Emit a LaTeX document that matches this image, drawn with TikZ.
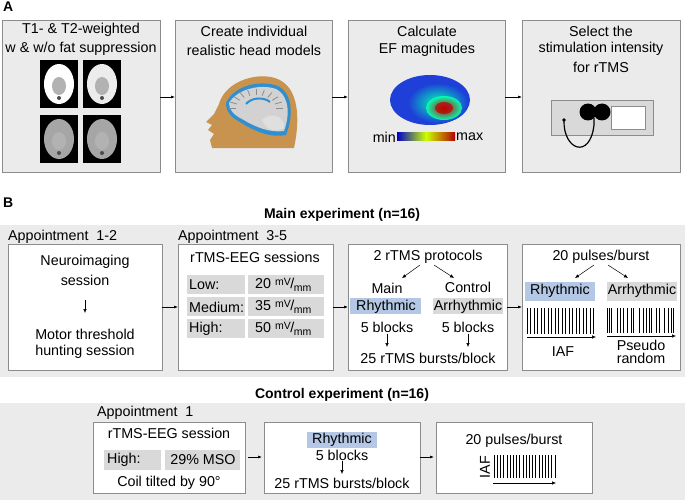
\documentclass[tikz,border=0pt]{standalone}
\usepackage{fontspec}
\setmainfont{Liberation Sans}
\usetikzlibrary{arrows.meta,calc}
\definecolor{band}{HTML}{EBEBEB}
\definecolor{cell}{HTML}{D9D9D9}
\definecolor{bluec}{HTML}{B4C8E6}
\definecolor{bord}{HTML}{8C8C8C}
\definecolor{skin}{HTML}{C8934E}
\definecolor{csf}{HTML}{2F8FD0}
\definecolor{efblue}{HTML}{1E3FD8}
\newcommand{\mvmm}{\raisebox{0.45ex}{\fontsize{10.5}{10}\selectfont mV}\kern-0.5pt/\kern-0.5pt\raisebox{-0.4ex}{\fontsize{10.5}{10}\selectfont mm}}
\begin{document}
\begin{tikzpicture}[x=1pt,y=-1pt,
 every node/.style={font=\fontsize{14.3}{16}\selectfont, inner sep=0pt},
 abox/.style={draw=bord, fill=band, line width=0.8pt},
 wbox/.style={draw=bord, fill=white, line width=0.8pt},
 arr/.style={-{Latex[length=4pt,width=3pt]}, line width=0.6pt},
 sarr/.style={-{Latex[length=4pt,width=3.5pt]}, line width=0.5pt},
 lab/.style={font=\fontsize{14}{16}\selectfont\bfseries},
 hd/.style={font=\fontsize{14}{16}\selectfont\bfseries}]
\useasboundingbox (0,0) rectangle (685,500);
% ---------- A ----------
\node[lab,anchor=north west] (labA) at (3,2) {A};
\draw[abox] (2,20) rectangle (160,172); \coordinate (a1e) at (160,97);
\draw[abox] (175,20) rectangle (332,172); \coordinate (a2w) at (175,97); \coordinate (a2e) at (332,97);
\draw[abox] (348,20) rectangle (505,172); \coordinate (a3w) at (348,97); \coordinate (a3e) at (505,97);
\draw[abox] (522,20) rectangle (680,172); \coordinate (a4w) at (522,97);
\draw[arr] (a1e) -- (a2w); \draw[arr] (a2e) -- (a3w); \draw[arr] (a3e) -- (a4w);
\node (t1) at (81,30) {T1- \& T2-weighted};
\node (t2) at (81,49) {w \& w/o fat suppression};
\node (c1) at (254,31) {Create individual};
\node (c2) at (254,50) {realistic head models};
\node (e1) at (427,31) {Calculate};
\node (e2) at (427,50) {EF magnitudes};
\node (s1) at (601,31) {Select the};
\node (s2) at (601,49) {stimulation intensity};
\node (s3) at (601,67) {for rTMS};
% MRI images
\foreach \x/\y/\c in {40/60/white,83/60/white!85!gray,40/115/gray!70!white,83/115/gray!70!white}{
 \fill[black] (\x,\y) rectangle ++(38,48);
 \fill[\c] (\x+19,\y+24) ellipse (15 and 20);
 \fill[gray!60] (\x+19,\y+26) ellipse (7 and 9);
 \fill[black!70] (\x+19,\y+38) circle (2);
}
% head model
\fill[skin] (212,148) -- (210,140) -- (214,134) -- (208,130) -- (212,125) -- (206,122) -- (214,114) -- (219,104) .. controls (225,82) and (255,72) .. (275,78) .. controls (300,86) and (300,120) .. (294,148) -- cycle;
\fill[csf] (226,103) .. controls (235,84) and (262,80) .. (278,86) .. controls (295,95) and (292,120) .. (286,135) .. controls (272,138) and (255,132) .. (240,122) .. controls (232,118) and (226,112) .. (226,103) -- cycle;
\fill[gray!35] (229,103) .. controls (238,88) and (262,84) .. (276,89) .. controls (291,97) and (289,118) .. (284,131) .. controls (270,133) and (255,127) .. (242,119) .. controls (234,115) and (229,110) .. (229,103) -- cycle;
\fill[gray!25] (262,120) .. controls (270,112) and (285,115) .. (284,128) .. controls (275,133) and (266,130) .. (262,120) -- cycle;
\draw[csf,line width=2pt] (246,104) .. controls (252,97) and (264,97) .. (270,102);
\foreach \a in {0,...,10}{\draw[black!45,line width=0.8pt] ($(256,108)+(180+\a*18:27 and 19)$) -- ($(256,108)+(180+\a*18:20 and 13)$);}
% EF brain
\fill[efblue] (430,100) ellipse (40 and 25);
\shade[inner color=cyan!70!green, outer color=efblue] (438,103) ellipse (30 and 20);
\shade[inner color=red!80!black, middle color=yellow!90!orange, outer color=cyan!70!green] (444,108) ellipse (18 and 12);
\fill[red!75!black, opacity=0.7] (444,108) ellipse (9 and 6);
\shade[left color=blue!80!black, right color=red!70!black, middle color=yellow!80!green] (397,133) rectangle (455,141);
\node[anchor=east] (mn) at (396,137) {min};
\node[anchor=west] (mx) at (456,137) {max};
% device
\draw[bord, fill=cell, line width=0.8pt] (551,100) rectangle (653,135);
\draw[bord, fill=white, line width=0.8pt] (611,106) rectangle (645,129);
\fill (588,112) circle (8.5); \fill (602,112) circle (8.5);
\draw[line width=1.2pt] (564,120) .. controls (563,150) and (590,160) .. (594,125) -- (594,118);
\fill (564,120) circle (1.8);
% ---------- B ----------
\node[lab,anchor=north west] (labB) at (3,198) {B};
\node[hd] (mainh) at (342,215) {Main experiment (n=16)};
\fill[band] (0,225) rectangle (685,377);
\node[anchor=west] (ap12) at (8,237) {Appointment\ \ 1-2};
\node[anchor=west] (ap35) at (178,237) {Appointment\ \ 3-5};
\draw[wbox] (8,244) rectangle (162,370);
\draw[wbox] (178,244) rectangle (333,370);
\draw[wbox] (348,244) rectangle (507,370);
\draw[wbox] (522,244) rectangle (680,370);
\coordinate (b1e) at (162,307); \coordinate (b2w) at (178,307);
\coordinate (b2e) at (333,307); \coordinate (b3w) at (348,307);
\coordinate (b3e) at (507,307); \coordinate (b4w) at (522,307);
\draw[arr] (b1e) -- (b2w); \draw[arr] (b2e) -- (b3w); \draw[arr] (b3e) -- (b4w);
% B1
\node (ni) at (85,262) {Neuroimaging};
\node (ns) at (85,280) {session};
\node (mt) at (85,334) {Motor threshold};
\node (hs) at (85,352) {hunting session};
\coordinate (ar1) at (85,300); \coordinate (ar2) at (85,313);
\draw[sarr] (ar1) -- (ar2);
% B2
\node (rs) at (255,257) {rTMS-EEG sessions};
\foreach \y/\l/\v in {275/Low:/20,297/Medium:/35,319/High:/50}{
 \fill[cell] (187,\y) rectangle (245,\y+19);
 \fill[cell] (248,\y) rectangle (324,\y+19);
 \node[anchor=west] at (189,\y+10) {\l};
 \node[anchor=west] at (255,\y+10) {\v\ \mvmm};
}
% B3
\node (pr) at (428,257) {2 rTMS protocols};
\node (mn3) at (387,288) {Main};
\node (ct3) at (468,287) {Control};
\draw[sarr] (420,265) -- (402,278);
\draw[sarr] (434,265) -- (454,278);
\fill[bluec] (350,298) rectangle (421,314);
\fill[cell] (433,298) rectangle (503,314);
\node (rh3) at (386,307) {Rhythmic};
\node (ah3) at (468,307) {Arrhythmic};
\node (b53a) at (387,327) {5 blocks};
\node (b53b) at (468,327) {5 blocks};
\draw[sarr] (387,334) -- (387,347);
\draw[sarr] (468,334) -- (468,347);
\node (bb3) at (428,358) {25 rTMS bursts/block};
% B4
\node (pb) at (601,257) {20 pulses/burst};
\draw[sarr] (594,265) -- (575,278);
\draw[sarr] (608,265) -- (628,278);
\fill[bluec] (525,282) rectangle (595,301);
\fill[cell] (607,282) rectangle (677,301);
\node (rh4) at (560,291) {Rhythmic};
\node (ah4) at (642,291) {Arrhythmic};
\foreach \i in {0,...,19}{\draw[line width=0.5pt] (527+\i*3.5,308) -- (527+\i*3.5,334);}
\draw[sarr] (527,337) -- (596,337);
\node (iaf) at (563,352) {IAF};
\foreach \x in {607,609,611,617,620,623,627,631,633,639,643,646,649,651,656,659,664,668,671,673}{\draw[line width=0.6pt] (\x,308) -- (\x,333);}
\draw[sarr] (607,336) -- (676,336);
\node (ps) at (641,345) {Pseudo};
\node (rd) at (641,358) {random};
% ---------- Control ----------
\node[hd] (ctrlh) at (342,395) {Control experiment (n=16)};
\fill[band] (0,403) rectangle (685,500);
\node[anchor=west] (ap1) at (97,413) {Appointment\ \ 1};
\draw[wbox] (93,422) rectangle (245,493);
\draw[wbox] (264,422) rectangle (420,493);
\draw[wbox] (436,422) rectangle (592,493);
\coordinate (c1e) at (248,457); \coordinate (c2w) at (262,457);
\coordinate (c2e) at (420,457); \coordinate (c3w) at (434,457);
\draw[arr] (c1e) -- (c2w); \draw[arr] (c2e) -- (c3w);
\node (cs) at (169,433) {rTMS-EEG session};
\fill[cell] (104,450) rectangle (161,470);
\fill[cell] (165,450) rectangle (240,470);
\node[anchor=west] (hi) at (107,460) {High:};
\node (mso) at (203,460) {29\% MSO};
\node (coil) at (169,483) {Coil tilted by 90°};
\fill[bluec] (307,432) rectangle (377,448);
\node (rhc) at (342,440) {Rhythmic};
\node (b5c) at (342,455) {5 blocks};
\draw[sarr] (342,461) -- (342,474);
\node (bbc) at (342,483) {25 rTMS bursts/block};
\node (pbc) at (514,441) {20 pulses/burst};
\node[rotate=90] (iafc) at (485,467) {IAF};
\foreach \i in {0,...,19}{\draw[line width=0.5pt] (494+\i*3.2,455) -- (494+\i*3.2,478);}
\draw[sarr] (493,483) -- (556,483);
\end{tikzpicture}
\end{document}
